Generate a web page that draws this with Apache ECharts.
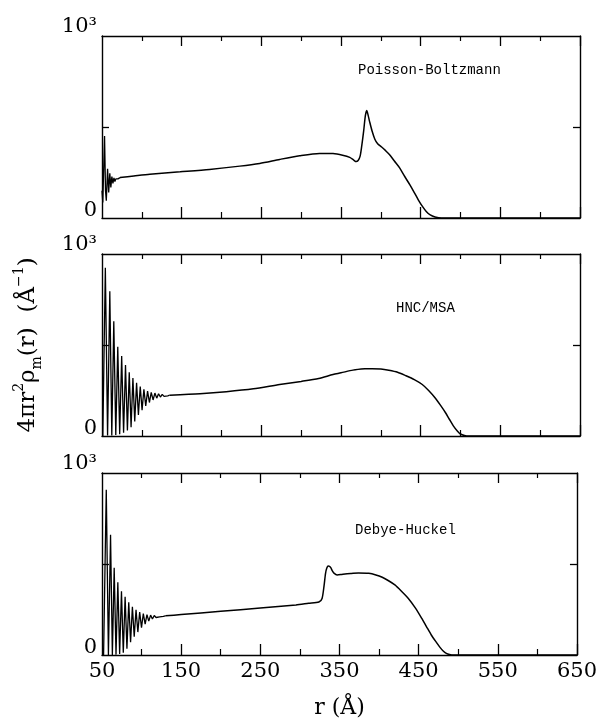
<!DOCTYPE html>
<html>
<head>
<meta charset="utf-8">
<script src="https://cdn.jsdelivr.net/npm/echarts@6/dist/echarts.min.js"></script>
<style>html,body{margin:0;padding:0;background:#fff}#c{width:600px;height:724px}</style>
</head>
<body>
<div id="c"></div>
<script>
// ---- data (r in Å, value) ----
var panelNames = ['Poisson-Boltzmann', 'HNC/MSA', 'Debye-Huckel'];
var xLabelValues = [50, 150, 250, 350, 450, 550, 650];
var xMajorTicks = [150, 250, 350, 450, 550, 650];
var xMinorTicks = [100, 200, 300, 400, 500, 600];
var yLabelValues = [0, 1000];
var yLabelTexts = ['0', '10³'];
var yTicks = [500];

var pbOsc = [[50,150],[51,85],[52.3,300],[53.2,450],[54.4,150],[55.4,95],[57,270],[58.4,140],[59.8,245],[61.1,168],[62.4,228],[63.7,190],[65,220],[66.2,200],[67.4,215],[68.6,207],[70,215],[71.3,211],[72.6,222]];
var pbSmooth = [[72.6,222],[90,231],[110,241],[148,254],[185,267],[223,285],[248,300],[273,322],[298,342],[323,355],[340,354],[352,345],[361,333],[366,318],[369,310],[371.5,316],[374,340],[376,395],[378.5,480],[380.5,560],[382.3,590],[384,565],[386,528],[389,478],[392.5,433],[396,408],[401,390],[406,370],[411,348],[417,313],[424,273],[430,228],[436.5,182],[442,140],[447,100],[452,65],[457,36],[462,17],[468,6],[476,0],[650,0]];

var hncOsc = [[51,0],[54.2,924],[57,3],[59.8,795],[62.3,3],[64.8,630],[67.3,5],[69.8,490],[72.2,10],[74.7,440],[77.1,18],[79.5,390],[81.9,30],[84.2,350],[86.5,48],[88.8,318],[91.1,80],[93.4,292],[95.7,115],[98,272],[100.3,142],[102.6,257],[104.9,165],[107.2,247],[109.5,184],[111.8,240],[114.1,198],[116.4,236],[118.7,208],[121,232],[123.3,214],[125.6,229],[127.9,218],[130.2,226],[132.5,221],[135,224]];
var hncSmooth = [[135,224],[173,232],[206,243],[240,259],[273,283],[300,300],[322,316],[340,338],[350,347],[365,362],[380,369],[389,370],[400,368],[410,361],[421,350],[431,332],[442,310],[452,283],[460,250],[468,210],[475,168],[481,129],[486,92],[491,56],[496,28],[500,11],[505,3],[510,0],[650,0]];

var dhOsc = [[52,0],[55.4,908],[58.1,0],[60.8,660],[63.1,0],[65.4,480],[67.7,2],[70,400],[72.3,5],[74.6,350],[76.9,12],[79.2,320],[81.5,35],[83.8,290],[86.1,70],[88.4,265],[90.7,100],[93,248],[95.3,126],[97.6,236],[99.9,150],[102.2,228],[104.5,170],[106.8,222],[109.1,186],[111.4,219],[113.7,198],[116,217],[118.3,206],[120.6,216],[122.9,210],[125.2,215],[127.5,212],[130,215]];
var dhSmooth = [[130,215],[150,222],[200,240],[250,258],[295,275],[311,284],[324,291],[328,311],[330.5,380],[332.4,449],[334,478],[335.8,489],[337.5,487],[339,480],[341,462],[343,450],[347,440],[352,442],[357,445],[365,448],[374,451],[387,449],[396,440],[404,427],[412,408],[420,385],[428,352],[437,311],[446,258],[454,201],[460,155],[466,110],[472,72],[477,42],[481,22],[485,9],[489,3],[494,0],[650,0]];

var oscData = [pbOsc, hncOsc, dhOsc];
var smoothData = [pbSmooth, hncSmooth, dhSmooth];

// ---- layout ----
var gridTops = [36, 254, 473];
var gridH = 182;
var labelPos = [[358, 63], [396, 301], [355, 523]];
var serif = 'DejaVu Serif';
var black = '#000';

var chart = echarts.init(document.getElementById('c'), null, {renderer: 'canvas'});

var grids = [], xAxes = [], yAxes = [], series = [], graphics = [];
for (var i = 0; i < 3; i++) {
  grids.push({left: 102, right: 20, top: gridTops[i], height: gridH, containLabel: false});
  var isBottom = (i === 2);
  var base = {gridIndex: i, type: 'value', min: 50, max: 650, interval: 50, splitLine: {show: false}};
  xAxes.push(Object.assign({}, base, {
    position: 'bottom',
    axisLine: {show: true, onZero: false, lineStyle: {color: black, width: 1.4}},
    axisTick: {show: true, inside: true, length: 11, customValues: xMajorTicks, lineStyle: {color: black, width: 1.3}},
    axisLabel: {show: isBottom, customValues: xLabelValues, margin: 6, fontFamily: serif, fontSize: 21, color: black},
    name: isBottom ? 'r (Å)' : '', nameLocation: 'middle', nameGap: 42,
    nameTextStyle: {fontFamily: serif, fontSize: 22, color: black}
  }));
  xAxes.push(Object.assign({}, base, {
    position: 'bottom',
    axisLine: {show: false, onZero: false},
    axisTick: {show: true, inside: true, length: 6, customValues: xMinorTicks, lineStyle: {color: black, width: 1.2}},
    axisLabel: {show: false}
  }));
  xAxes.push(Object.assign({}, base, {
    position: 'top',
    axisLine: {show: true, onZero: false, lineStyle: {color: black, width: 1.4}},
    axisTick: {show: true, inside: true, length: 10, customValues: xMajorTicks, lineStyle: {color: black, width: 1.3}},
    axisLabel: {show: false}
  }));
  xAxes.push(Object.assign({}, base, {
    position: 'top',
    axisLine: {show: false, onZero: false},
    axisTick: {show: true, inside: true, length: 5, customValues: xMinorTicks, lineStyle: {color: black, width: 1.2}},
    axisLabel: {show: false}
  }));
  var ybase = {gridIndex: i, type: 'value', min: 0, max: 1000, interval: 500, splitLine: {show: false}};
  yAxes.push(Object.assign({}, ybase, {
    position: 'left',
    axisLine: {show: true, onZero: false, lineStyle: {color: black, width: 1.4}},
    axisTick: {show: true, inside: true, length: 7, customValues: yTicks, lineStyle: {color: black, width: 1.3}},
    axisLabel: {show: true, customValues: yLabelValues, margin: 5, verticalAlign: 'bottom',
      formatter: function (v) {
        var k = yLabelValues.indexOf(v);
        if (k < 0) return '';
        return (k === 0 ? '{z|' : '{t|') + yLabelTexts[k] + '}';
      },
      rich: {
        z: {fontFamily: serif, fontSize: 21, color: black, lineHeight: 15},
        t: {fontFamily: serif, fontSize: 21, color: black, lineHeight: 15, padding: [0, 0, 3, 0]}
      }}
  }));
  yAxes.push(Object.assign({}, ybase, {
    position: 'right',
    axisLine: {show: true, onZero: false, lineStyle: {color: black, width: 1.4}},
    axisTick: {show: true, inside: true, length: 7, customValues: yTicks, lineStyle: {color: black, width: 1.3}},
    axisLabel: {show: false}
  }));
  series.push({type: 'line', xAxisIndex: i * 4, yAxisIndex: i * 2, data: oscData[i], showSymbol: false, smooth: false,
    lineStyle: {color: black, width: 1.3}, animation: false});
  series.push({type: 'line', xAxisIndex: i * 4, yAxisIndex: i * 2, data: smoothData[i], showSymbol: false, smooth: 0.25,
    lineStyle: {color: black, width: 1.5}, animation: false});
  graphics.push({type: 'text', left: labelPos[i][0], top: labelPos[i][1],
    style: {text: panelNames[i], fontFamily: 'Liberation Mono', fontSize: 14, fill: '#000'}});
}

graphics.push({type: 'text', x: 28, y: 345, rotation: Math.PI / 2,
  style: {
    text: '{n|4πr}{sup|2}{n|ρ}{sub|m}{n|(r)  (Å}{sup|−1}{n|)}',
    align: 'center', verticalAlign: 'middle',
    rich: {
      n: {fontFamily: serif, fontSize: 23, lineHeight: 32, verticalAlign: 'middle', fill: black},
      sup: {fontFamily: serif, fontSize: 14, lineHeight: 32, verticalAlign: 'top', fill: black},
      sub: {fontFamily: serif, fontSize: 14, lineHeight: 32, verticalAlign: 'bottom', fill: black}
    }
  }});

chart.setOption({
  animation: false,
  backgroundColor: '#fff',
  grid: grids,
  xAxis: xAxes,
  yAxis: yAxes,
  series: series,
  graphic: graphics
});
</script>
</body>
</html>
